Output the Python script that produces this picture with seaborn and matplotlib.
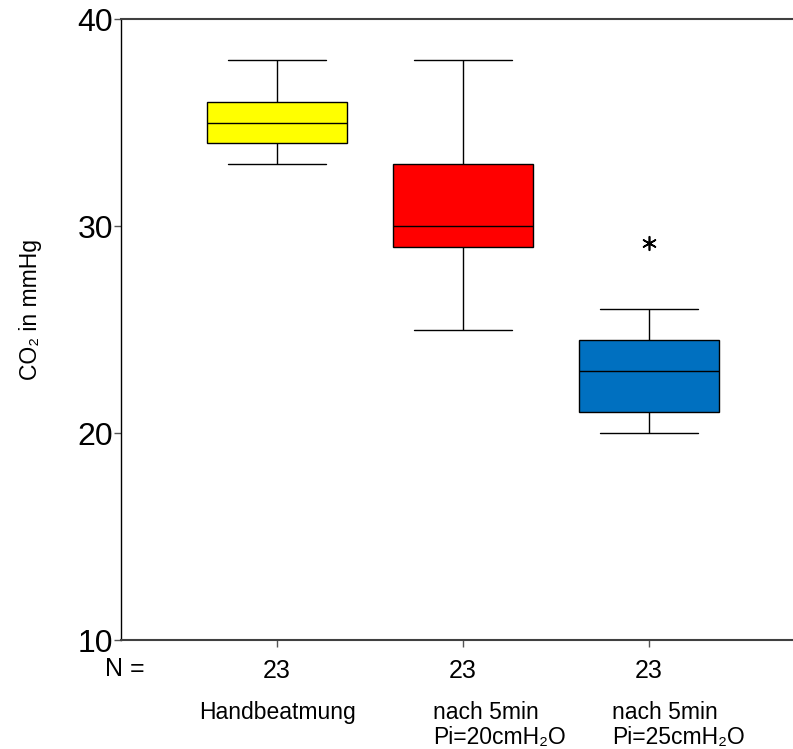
import pandas as pd
import matplotlib
matplotlib.use("Agg")
import matplotlib.pyplot as plt
import matplotlib.transforms as mtransforms
import seaborn as sns

# Data
groups = ["Handbeatmung", "nach 5min\nPi=20cmH₂O", "nach 5min\nPi=25cmH₂O"]
colors = ["#FFFF00", "#FF0000", "#0070C0"]
n_labels = ["23", "23", "23"]

hand = [33, 33, 34, 34, 34, 34, 34, 34, 35, 35, 35, 35, 35, 35, 35, 36, 36, 36, 36, 36, 37, 37, 38]
pi20 = [25, 26, 27, 28, 29, 29, 29, 29, 30, 30, 30, 30, 31, 31, 32, 33, 33, 33, 34, 35, 36, 37, 38]
pi25 = [20, 20, 21, 21, 21, 21, 21, 22, 22, 22, 23, 23, 23, 24, 24, 24.5, 24.5, 25, 25, 25, 26, 26]

outlier_group = [groups[2]]
outlier_value = [29.2]

df = pd.DataFrame({
    "group": [groups[0]] * len(hand) + [groups[1]] * len(pi20) + [groups[2]] * len(pi25),
    "co2": hand + pi20 + pi25,
})

# Style
sns.set_style("white")
plt.rcParams["font.family"] = ["Liberation Sans", "DejaVu Sans"]
plt.rcParams["text.color"] = "black"
plt.rcParams["axes.labelcolor"] = "black"
plt.rcParams["xtick.color"] = "black"
plt.rcParams["ytick.color"] = "black"

fig = plt.figure(figsize=(7.93, 7.49), dpi=100)
ax = fig.add_axes([121 / 793, 1 - 640 / 749, 1 - 121 / 793, (640 - 19) / 749])

sns.boxplot(
    data=df, x="group", y="co2", hue="group", order=groups, hue_order=groups,
    palette=colors, saturation=1, width=0.75, whis=(0, 100), showfliers=False,
    linecolor="black", linewidth=1, legend=False, capwidths=0.53, ax=ax,
)

# extreme value marked with an asterisk
sns.scatterplot(
    x=[groups.index(g) for g in outlier_group], y=outlier_value,
    marker=(6, 2, 0), s=95, color="black", linewidth=1.2, ax=ax, legend=False,
)

ax.set_xlim(-0.839, 2.774)
ax.set_ylim(10, 40)
ax.set_yticks([10, 20, 30, 40])
ax.set_xticks(range(len(groups)))
ax.set_xticklabels(n_labels, fontsize=18)
ax.tick_params(axis="y", labelsize=23, length=5, width=1, pad=0.5, left=True, color="#555555")
ax.tick_params(axis="x", length=5, width=1, pad=9, bottom=True, color="#555555")
ax.set_xlabel("")
ax.set_ylabel("CO₂ in mmHg", fontsize=16.5)
ax.yaxis.set_label_coords(-0.118, 0.533)

for side in ["top", "bottom"]:
    ax.spines[side].set_color("#404040")
    ax.spines[side].set_linewidth(1.5)
ax.spines["left"].set_color("black")
ax.spines["left"].set_linewidth(1.0)
ax.spines["right"].set_visible(False)

# group names under the N row
trans = mtransforms.blended_transform_factory(ax.transData, ax.transAxes)
label_offsets = [(0, "center"), (-21.6, "left"), (-26.6, "left")]
for i, (name, (dx, ha)) in enumerate(zip(groups, label_offsets)):
    ax.annotate(name, xy=(i, 0), xycoords=trans, xytext=(dx, -44), textcoords="offset points",
                ha=ha, va="top", fontsize=16.5, linespacing=1.1, annotation_clip=False)

fig.text(125 / 793, 1 - 669 / 749, "N =", ha="center", va="center", fontsize=18)

plt.savefig("out.png", dpi=100)
